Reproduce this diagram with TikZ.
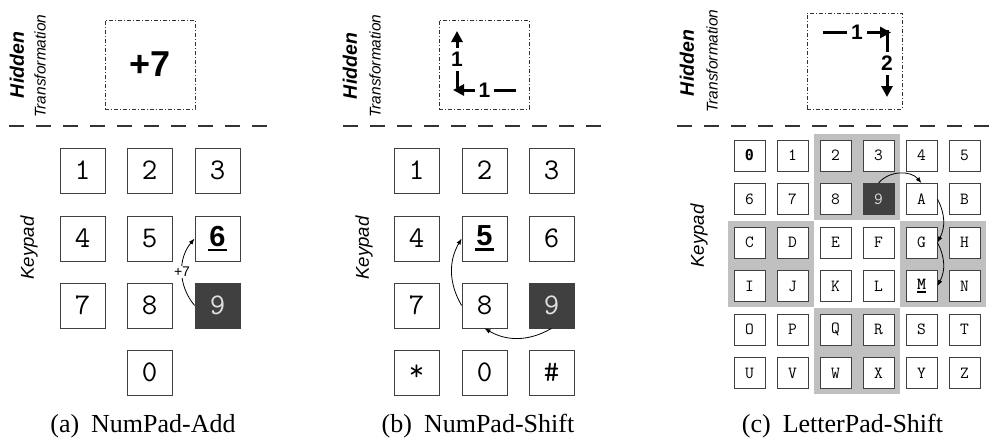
\documentclass[tikz,border=0pt]{standalone}
\usepackage{fontspec}
\setmainfont{Liberation Serif}
\setsansfont{Liberation Sans}
\newfontfamily\slashfont{DejaVu Sans Mono}
\usetikzlibrary{arrows.meta,fit,backgrounds,shadows}

% underlined label: #1 text, #2 drop below baseline, #3 bar thickness, #4 overhang
\newcommand\barunder[4]{\setbox0=\hbox{#1}\leavevmode
  \rlap{\hspace{-#4}\rule[-#2]{\dimexpr\wd0+#4+#4\relax}{#3}}\box0}

\definecolor{darkkey}{HTML}{404040}
\definecolor{zone}{HTML}{C0C0C0}

\tikzset{
  padkey/.style={draw=black!75, line width=0.8pt, fill=white, minimum size=45pt,
    inner sep=0pt, font=\ttfamily\fontsize{30}{30}\selectfont,
    drop shadow={shadow xshift=0.8pt, shadow yshift=-0.8pt, fill=black!55, opacity=1}},
  letterkey/.style={padkey, minimum size=31pt, font=\ttfamily\fontsize{17}{17}\selectfont},
  pressed/.style={fill=darkkey, text=black!12},
  zonebox/.style={fill=zone, inner sep=5.5pt},
  hidbox/.style={draw=black!80, line width=0.8pt,
    dash pattern=on 4pt off 2pt on 1pt off 2pt},
  separator/.style={draw=black!80, line width=1.3pt, dash pattern=on 15pt off 12pt},
  hopper/.style={-{Latex[length=6pt,width=4.5pt]}, line width=0.8pt},
  bigarrow/.style={-{Triangle[length=11pt,width=11pt]}, line width=3pt},
  steplabel/.style={fill=white, inner sep=4pt, font=\sffamily\bfseries\fontsize{21}{21}\selectfont},
  hiddentxt/.style={rotate=90, font=\sffamily\bfseries\itshape\fontsize{19.5}{19.5}\selectfont},
  transtxt/.style={rotate=90, font=\sffamily\itshape\fontsize{15.5}{15.5}\selectfont},
  padtxt/.style={rotate=90, font=\sffamily\itshape\fontsize{18.6}{18.6}\selectfont},
  captiontxt/.style={font=\fontsize{26}{26}\selectfont},
}

\begin{document}
\begin{tikzpicture}[x=1pt,y=-1pt]
\useasboundingbox (0,0) rectangle (1001,442);

% ---------------- (a) NumPad-Add ----------------
\node[hiddentxt] (ahid) at (17,65) {Hidden};
\node[transtxt] (atr) at (40,66) {Transformation};
\node[hidbox, minimum width=90pt, minimum height=89pt,
  font=\sffamily\bfseries\fontsize{36}{36}\selectfont] (abox) at (150,64.5) {+7};
\coordinate (asep1) at (9,126);
\coordinate (asep2) at (273,126);
\draw[separator] (asep1) -- (asep2);
\node[padtxt] (apad) at (29,248) {Keypad};

\node[padkey] (a1) at (82.5,170.5) {1};
\node[padkey] (a2) at (149.5,170.5) {2};
\node[padkey] (a3) at (217.5,170.5) {3};
\node[padkey] (a4) at (82.5,238.5) {4};
\node[padkey] (a5) at (149.5,238.5) {5};
\node[padkey] (a6) at (217.5,238.5)
  {\barunder{\sffamily\bfseries\fontsize{29}{29}\selectfont 6}{5pt}{2.5pt}{1.5pt}};
\node[padkey] (a7) at (82.5,305.5) {7};
\node[padkey] (a8) at (149.5,305.5) {8};
\node[padkey, pressed] (a9) at (217.5,305.5) {9};
\node[padkey] (a0) at (149.5,372.5) {0};

\draw[hopper] (a9.west) to[bend left=40]
  node[fill=white, inner sep=1pt, font=\sffamily\fontsize{14}{14}\selectfont] {+7} (a6.west);

\node[captiontxt] (acap) at (143,426) {(a)\hspace{12pt}NumPad-Add};

% ---------------- (b) NumPad-Shift ----------------
\node[hiddentxt] (bhid) at (350,66) {Hidden};
\node[transtxt] (btr) at (375,66) {Transformation};
\node[hidbox, minimum width=90pt, minimum height=89pt] (bbox) at (484,64.5) {};
\coordinate (bh1) at (516,90);
\coordinate (bh2) at (453,90);
\coordinate (bh3) at (457,88);
\coordinate (bh4) at (457,31);
\draw[bigarrow] (bh1) -- node[steplabel] {1} (bh2);
\draw[bigarrow] (bh3) -- node[steplabel] {1} (bh4);
\coordinate (bsep1) at (343,126);
\coordinate (bsep2) at (607,126);
\draw[separator] (bsep1) -- (bsep2);
\node[padtxt] (bpad) at (364,248) {Keypad};

\node[padkey] (b1) at (416.5,170.5) {1};
\node[padkey] (b2) at (484.5,170.5) {2};
\node[padkey] (b3) at (551.5,170.5) {3};
\node[padkey] (b4) at (416.5,238.5) {4};
\node[padkey] (b5) at (484.5,238.5)
  {\barunder{\sffamily\bfseries\fontsize{29}{29}\selectfont 5}{5pt}{2.5pt}{1.5pt}};
\node[padkey] (b6) at (551.5,238.5) {6};
\node[padkey] (b7) at (416.5,305.5) {7};
\node[padkey] (b8) at (484.5,305.5) {8};
\node[padkey, pressed] (b9) at (551.5,305.5) {9};
\node[padkey] (bstar) at (416.5,372.5) {*};
\node[padkey] (b0) at (484.5,372.5) {0};
\node[padkey] (bhash) at (551.5,372.5) {\#};

\draw[hopper] (b9.south) to[bend left=30] (b8.south);
\draw[hopper] (b8.west) to[bend left=30] (b5.west);

\node[captiontxt] (bcap) at (478,426) {(b)\hspace{12pt}NumPad-Shift};

% ---------------- (c) LetterPad-Shift ----------------
\node[hiddentxt] (chid) at (687,63) {Hidden};
\node[transtxt] (ctr) at (712,61) {Transformation};
\node[hidbox, minimum width=95pt, minimum height=96pt] (cbox) at (854.5,61) {};
\coordinate (ch1) at (823,32.5);
\coordinate (ch2) at (891,32.5);
\coordinate (ch3) at (887,30);
\coordinate (ch4) at (887,97);
\draw[bigarrow] (ch1) -- node[steplabel] {1} (ch2);
\draw[bigarrow] (ch3) -- node[steplabel] {2} (ch4);
\coordinate (csep1) at (677,126);
\coordinate (csep2) at (1001,126);
\draw[separator] (csep1) -- (csep2);
\node[padtxt] (cpad) at (699,236) {Keypad};

% 6 x 6 letter pad
\node[letterkey, font=\slashfont\bfseries\fontsize{15}{15}\selectfont] (c0) at (749.5,155.5) {0};
\node[letterkey] (c1) at (792.5,155.5) {1};
\node[letterkey] (c2) at (835.5,155.5) {2};
\node[letterkey] (c3) at (878.5,155.5) {3};
\node[letterkey] (c4) at (921.5,155.5) {4};
\node[letterkey] (c5) at (964.5,155.5) {5};
\node[letterkey] (c6) at (749.5,199) {6};
\node[letterkey] (c7) at (792.5,199) {7};
\node[letterkey] (c8) at (835.5,199) {8};
\node[letterkey, pressed] (c9) at (878.5,199) {9};
\node[letterkey] (cA) at (921.5,199) {A};
\node[letterkey] (cB) at (964.5,199) {B};
\node[letterkey] (cC) at (749.5,242.5) {C};
\node[letterkey] (cD) at (792.5,242.5) {D};
\node[letterkey] (cE) at (835.5,242.5) {E};
\node[letterkey] (cF) at (878.5,242.5) {F};
\node[letterkey] (cG) at (921.5,242.5) {G};
\node[letterkey] (cH) at (964.5,242.5) {H};
\node[letterkey] (cI) at (749.5,286) {I};
\node[letterkey] (cJ) at (792.5,286) {J};
\node[letterkey] (cK) at (835.5,286) {K};
\node[letterkey] (cL) at (878.5,286) {L};
\node[letterkey] (cM) at (921.5,286)
  {\barunder{\ttfamily\bfseries\fontsize{17}{17}\selectfont M}{3pt}{1.6pt}{0pt}};
\node[letterkey] (cN) at (964.5,286) {N};
\node[letterkey] (cO) at (749.5,329.5) {O};
\node[letterkey] (cP) at (792.5,329.5) {P};
\node[letterkey] (cQ) at (835.5,329.5) {Q};
\node[letterkey] (cR) at (878.5,329.5) {R};
\node[letterkey] (cS) at (921.5,329.5) {S};
\node[letterkey] (cT) at (964.5,329.5) {T};
\node[letterkey] (cU) at (749.5,373) {U};
\node[letterkey] (cV) at (792.5,373) {V};
\node[letterkey] (cW) at (835.5,373) {W};
\node[letterkey] (cX) at (878.5,373) {X};
\node[letterkey] (cY) at (921.5,373) {Y};
\node[letterkey] (cZ) at (964.5,373) {Z};

% shaded 2 x 2 zones behind the keys
\begin{scope}[on background layer]
  \node[zonebox, fit=(c2)(c9)] (zone1) {};
  \node[zonebox, fit=(cC)(cJ)] (zone2) {};
  \node[zonebox, fit=(cG)(cN)] (zone3) {};
  \node[zonebox, fit=(cQ)(cX)] (zone4) {};
\end{scope}

\draw[hopper] (c9.north) to[bend left=50] (cA.north);
\draw[hopper] (cA.east) to[bend left=28] (cG.east);
\draw[hopper] (cG.east) to[bend left=28] (cM.east);

\node[captiontxt] (ccap) at (842.5,426) {(c)\hspace{12pt}LetterPad-Shift};
\end{tikzpicture}
\end{document}
